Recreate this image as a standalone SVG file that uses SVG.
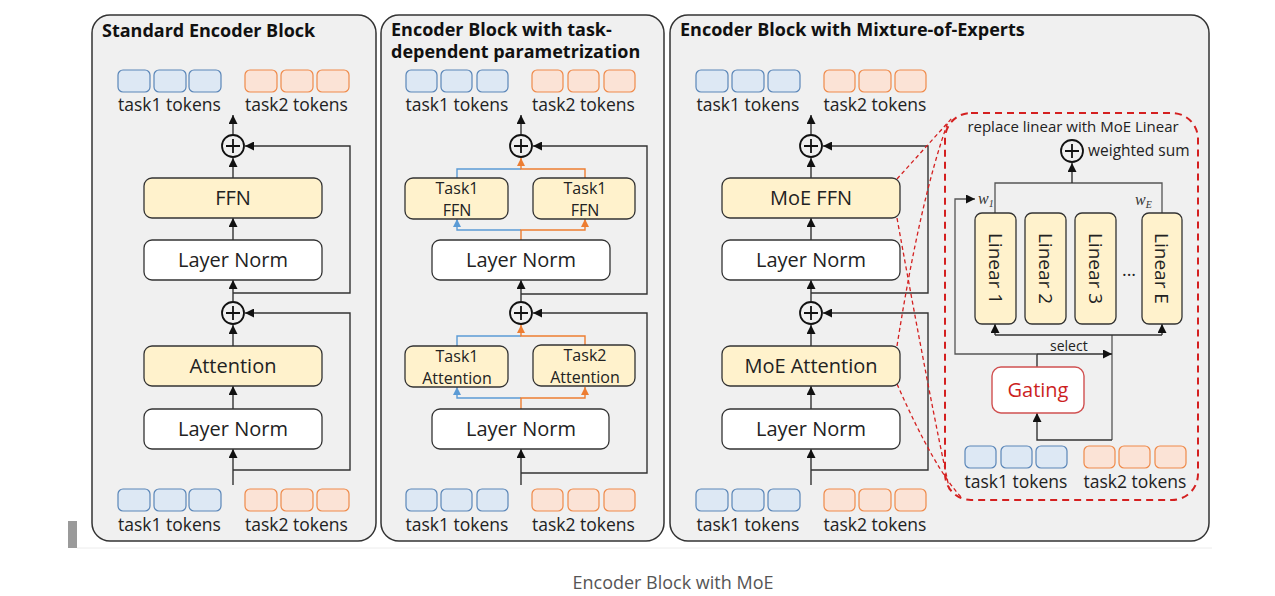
<svg xmlns="http://www.w3.org/2000/svg" width="1275" height="596" viewBox="0 0 1275 596">
<defs>
<style>
.panel{fill:#f0f0f0;stroke:#333;stroke-width:1.5}
.title{font-family:"Open Sans","Noto Sans",sans-serif;font-weight:bold;font-size:18px;fill:#111}
.box{fill:#fff;stroke:#333;stroke-width:1.3}
.ybox{fill:#fff2cc;stroke:#333;stroke-width:1.3}
.lbl{font-family:"Open Sans","Noto Sans",sans-serif;font-size:20px;fill:#222;text-anchor:middle}
.lbl2{font-family:"Open Sans","Noto Sans",sans-serif;font-size:16px;fill:#222;text-anchor:middle}
.tok{font-family:"Open Sans","Noto Sans",sans-serif;font-size:17.5px;fill:#222;text-anchor:middle}
.small{font-family:"Open Sans","Noto Sans",sans-serif;font-size:15px;fill:#222}
.bt{fill:#dde8f4;stroke:#5a86b8;stroke-width:1.2}
.ot{fill:#fbe3d6;stroke:#ef8a4a;stroke-width:1.2}
.ln{fill:none;stroke:#333;stroke-width:1.4}
.lg{fill:none;stroke:#555;stroke-width:1.3}
.lb{fill:none;stroke:#5b9bd5;stroke-width:1.4}
.lo{fill:none;stroke:#ed7d31;stroke-width:1.4}
.red{fill:none;stroke:#d42020;stroke-width:1.3;stroke-dasharray:4 3}
.plus{fill:#f0f0f0;stroke:#111;stroke-width:1.8}
</style>
<marker id="ah" markerUnits="userSpaceOnUse" markerWidth="9" markerHeight="9" viewBox="0 0 10 10" refX="10" refY="5" orient="auto"><path d="M0,0 L10,5 L0,10 z" fill="#111"/></marker>
<marker id="ahb" markerUnits="userSpaceOnUse" markerWidth="8" markerHeight="8" viewBox="0 0 10 10" refX="10" refY="5" orient="auto"><path d="M0,0 L10,5 L0,10 z" fill="#5b9bd5"/></marker>
<marker id="aho" markerUnits="userSpaceOnUse" markerWidth="8" markerHeight="8" viewBox="0 0 10 10" refX="10" refY="5" orient="auto"><path d="M0,0 L10,5 L0,10 z" fill="#ed7d31"/></marker>
<g id="plusSym"><circle cx="0" cy="0" r="11" class="plus"/><path d="M-7,0 H7 M0,-7 V7" stroke="#111" stroke-width="1.8"/></g>
</defs>
<rect width="1275" height="596" fill="#fff"/>
<rect x="68" y="521" width="9" height="27" fill="#9a9a9a"/>
<line x1="77" y1="548" x2="1212" y2="548" stroke="#ececec" stroke-width="1"/>

<!-- Panels -->
<g id="panel1">
<rect class="panel" x="92" y="15" width="284" height="526" rx="18"/>
<text class="title" x="102" y="37">Standard Encoder Block</text>
</g>
<g id="panel2">
<rect class="panel" x="381" y="15" width="283" height="526" rx="18"/>
<text class="title" x="391" y="36">Encoder Block with task-</text>
<text class="title" x="391" y="58">dependent parametrization</text>
</g>
<g id="panel3">
<rect class="panel" x="670" y="15" width="539" height="526" rx="18"/>
<text class="title" x="680" y="36">Encoder Block with Mixture-of-Experts</text>
</g>

<!-- Token rows -->
<g id="tokens-p1-top">
<rect class="bt" x="118" y="70" width="32" height="22" rx="5"/><rect class="bt" x="154" y="70" width="32" height="22" rx="5"/><rect class="bt" x="189" y="70" width="32" height="22" rx="5"/>
<rect class="ot" x="245" y="70" width="32" height="22" rx="5"/><rect class="ot" x="281" y="70" width="32" height="22" rx="5"/><rect class="ot" x="317" y="70" width="32" height="22" rx="5"/>
<text class="tok" x="169.5" y="111">task1 tokens</text><text class="tok" x="296.5" y="111">task2 tokens</text>
</g>
<g id="tokens-p1-bot">
<rect class="bt" x="118" y="489" width="32" height="22" rx="5"/><rect class="bt" x="154" y="489" width="32" height="22" rx="5"/><rect class="bt" x="189" y="489" width="32" height="22" rx="5"/>
<rect class="ot" x="245" y="489" width="32" height="22" rx="5"/><rect class="ot" x="281" y="489" width="32" height="22" rx="5"/><rect class="ot" x="317" y="489" width="32" height="22" rx="5"/>
<text class="tok" x="169.5" y="531">task1 tokens</text><text class="tok" x="296.5" y="531">task2 tokens</text>
</g>
<g id="tokens-p2-top">
<rect class="bt" x="406" y="70" width="31" height="22" rx="5"/><rect class="bt" x="441" y="70" width="31" height="22" rx="5"/><rect class="bt" x="477" y="70" width="31" height="22" rx="5"/>
<rect class="ot" x="532" y="70" width="31" height="22" rx="5"/><rect class="ot" x="568" y="70" width="31" height="22" rx="5"/><rect class="ot" x="604" y="70" width="31" height="22" rx="5"/>
<text class="tok" x="457" y="111">task1 tokens</text><text class="tok" x="583.5" y="111">task2 tokens</text>
</g>
<g id="tokens-p2-bot">
<rect class="bt" x="406" y="489" width="31" height="22" rx="5"/><rect class="bt" x="441" y="489" width="31" height="22" rx="5"/><rect class="bt" x="477" y="489" width="31" height="22" rx="5"/>
<rect class="ot" x="532" y="489" width="31" height="22" rx="5"/><rect class="ot" x="568" y="489" width="31" height="22" rx="5"/><rect class="ot" x="604" y="489" width="31" height="22" rx="5"/>
<text class="tok" x="457" y="531">task1 tokens</text><text class="tok" x="583.5" y="531">task2 tokens</text>
</g>
<g id="tokens-p3-top">
<rect class="bt" x="696" y="70" width="32" height="22" rx="5"/><rect class="bt" x="732" y="70" width="32" height="22" rx="5"/><rect class="bt" x="768" y="70" width="32" height="22" rx="5"/>
<rect class="ot" x="824" y="70" width="31" height="22" rx="5"/><rect class="ot" x="859" y="70" width="32" height="22" rx="5"/><rect class="ot" x="895" y="70" width="31" height="22" rx="5"/>
<text class="tok" x="748" y="111">task1 tokens</text><text class="tok" x="875" y="111">task2 tokens</text>
</g>
<g id="tokens-p3-bot">
<rect class="bt" x="696" y="489" width="32" height="22" rx="5"/><rect class="bt" x="732" y="489" width="32" height="22" rx="5"/><rect class="bt" x="768" y="489" width="32" height="22" rx="5"/>
<rect class="ot" x="824" y="489" width="31" height="22" rx="5"/><rect class="ot" x="859" y="489" width="32" height="22" rx="5"/><rect class="ot" x="895" y="489" width="31" height="22" rx="5"/>
<text class="tok" x="748" y="531">task1 tokens</text><text class="tok" x="875" y="531">task2 tokens</text>
</g>

<!-- Connectors -->
<g id="connectors">
<!-- panel 1 -->
<path class="ln" d="M233,485 V449" marker-end="url(#ah)"/>
<path class="ln" d="M233,470 H350 V313 H245" marker-end="url(#ah)"/>
<path class="ln" d="M233,409 V386" marker-end="url(#ah)"/>
<path class="ln" d="M233,346 V325" marker-end="url(#ah)"/>
<path class="ln" d="M233,301 V280" marker-end="url(#ah)"/>
<path class="ln" d="M233,293 H350 V146 H245" marker-end="url(#ah)"/>
<path class="ln" d="M233,240 V218" marker-end="url(#ah)"/>
<path class="ln" d="M233,178 V158" marker-end="url(#ah)"/>
<path class="ln" d="M233,134 V115" marker-end="url(#ah)"/>
<!-- panel 2 -->
<path class="ln" d="M521,485 V449" marker-end="url(#ah)"/>
<path class="ln" d="M521,473 H647 V313 H533" marker-end="url(#ah)"/>
<path class="lb" d="M521,398 H457 V387" marker-end="url(#ahb)"/>
<path class="lo" d="M521,409 V398 H585 V387" marker-end="url(#aho)"/>
<path class="lb" d="M457,346 V336 H521"/>
<path class="lo" d="M585,345 V336 H521 V325" marker-end="url(#aho)"/>
<path class="ln" d="M521,301 V280" marker-end="url(#ah)"/>
<path class="ln" d="M521,294 H647 V146 H533" marker-end="url(#ah)"/>
<path class="lb" d="M521,230 H457 V219" marker-end="url(#ahb)"/>
<path class="lo" d="M521,240 V230 H585 V219" marker-end="url(#aho)"/>
<path class="lb" d="M457,178 V169 H521"/>
<path class="lo" d="M585,178 V169 H521 V158" marker-end="url(#aho)"/>
<path class="ln" d="M521,134 V115" marker-end="url(#ah)"/>
<!-- panel 3 -->
<path class="ln" d="M811,485 V449" marker-end="url(#ah)"/>
<path class="ln" d="M811,470 H928 V313 H823" marker-end="url(#ah)"/>
<path class="ln" d="M811,409 V386" marker-end="url(#ah)"/>
<path class="ln" d="M811,346 V325" marker-end="url(#ah)"/>
<path class="ln" d="M811,301 V280" marker-end="url(#ah)"/>
<path class="ln" d="M811,293 H928 V146 H823" marker-end="url(#ah)"/>
<path class="ln" d="M811,240 V218" marker-end="url(#ah)"/>
<path class="ln" d="M811,178 V158" marker-end="url(#ah)"/>
<path class="ln" d="M811,134 V115" marker-end="url(#ah)"/>
<!-- red zoom lines -->
<path class="red" d="M897,179 L952,118"/>
<path class="red" d="M897,218 Q930,400 950,492"/>
<path class="red" d="M897,346 Q920,200 948,122"/>
<path class="red" d="M897,384 Q935,470 962,498"/>
<!-- MoE internals -->
<path class="lg" d="M995,213 V183 H1162 V213"/>
<path class="ln" d="M1072,183 V163" marker-end="url(#ah)"/>
<path class="lg" d="M1112,440 V335"/>
<path class="ln" d="M995,335 H1162"/>
<path class="ln" d="M995,335 V324" marker-end="url(#ah)"/>
<path class="ln" d="M1162,335 V324" marker-end="url(#ah)"/>
<path class="ln" d="M1112,440 H1037 V413" marker-end="url(#ah)"/>
<path class="ln" d="M1037,367 V354"/>
<path class="lg" d="M1037,354 H955 V199 H975" marker-end="url(#ah)"/>
<path class="ln" d="M1037,354 H1112" marker-end="url(#ah)"/>
</g>

<!-- Panel 1 nodes -->
<g id="p1-plus-top"><use href="#plusSym" x="233" y="146"/></g>
<g id="p1-ffn"><rect class="ybox" x="144" y="178" width="178" height="40" rx="8"/><text class="lbl" x="233" y="205">FFN</text></g>
<g id="p1-ln1"><rect class="box" x="144" y="240" width="178" height="40" rx="8"/><text class="lbl" x="233" y="267">Layer Norm</text></g>
<g id="p1-plus-bot"><use href="#plusSym" x="233" y="313"/></g>
<g id="p1-attn"><rect class="ybox" x="144" y="346" width="178" height="40" rx="8"/><text class="lbl" x="233" y="373">Attention</text></g>
<g id="p1-ln2"><rect class="box" x="144" y="409" width="178" height="40" rx="8"/><text class="lbl" x="233" y="436">Layer Norm</text></g>

<!-- Panel 2 nodes -->
<g id="p2-plus-top"><use href="#plusSym" x="521" y="146"/></g>
<g id="p2-ffn1"><rect class="ybox" x="405" y="178" width="103" height="41" rx="8"/><text class="lbl2" x="457" y="194">Task1</text><text class="lbl2" x="457" y="216">FFN</text></g>
<g id="p2-ffn2"><rect class="ybox" x="533" y="178" width="102" height="41" rx="8"/><text class="lbl2" x="585" y="194">Task1</text><text class="lbl2" x="585" y="216">FFN</text></g>
<g id="p2-ln1"><rect class="box" x="432" y="240" width="178" height="40" rx="8"/><text class="lbl" x="521" y="267">Layer Norm</text></g>
<g id="p2-plus-bot"><use href="#plusSym" x="521" y="313"/></g>
<g id="p2-attn1"><rect class="ybox" x="405" y="346" width="103" height="41" rx="8"/><text class="lbl2" x="457" y="362">Task1</text><text class="lbl2" x="457" y="384">Attention</text></g>
<g id="p2-attn2"><rect class="ybox" x="533" y="345" width="102" height="41" rx="8"/><text class="lbl2" x="585" y="361">Task2</text><text class="lbl2" x="585" y="383">Attention</text></g>
<g id="p2-ln2"><rect class="box" x="432" y="409" width="177" height="40" rx="8"/><text class="lbl" x="521" y="436">Layer Norm</text></g>

<!-- Panel 3 nodes -->
<g id="p3-plus-top"><use href="#plusSym" x="811" y="146"/></g>
<g id="p3-ffn"><rect class="ybox" x="722" y="178" width="178" height="40" rx="8"/><text class="lbl" x="811" y="205">MoE FFN</text></g>
<g id="p3-ln1"><rect class="box" x="722" y="240" width="178" height="40" rx="8"/><text class="lbl" x="811" y="267">Layer Norm</text></g>
<g id="p3-plus-bot"><use href="#plusSym" x="811" y="313"/></g>
<g id="p3-attn"><rect class="ybox" x="722" y="346" width="178" height="40" rx="8"/><text class="lbl" x="811" y="373">MoE Attention</text></g>
<g id="p3-ln2"><rect class="box" x="722" y="409" width="178" height="40" rx="8"/><text class="lbl" x="811" y="436">Layer Norm</text></g>

<!-- MoE Linear detail -->
<g id="moe-detail">
<rect x="945" y="113" width="253" height="387" rx="26" fill="none" stroke="#d42020" stroke-width="2" stroke-dasharray="7 5"/>
<text class="small" x="1073" y="132" text-anchor="middle">replace linear with MoE Linear</text>
</g>
<g id="moe-sum"><use href="#plusSym" x="1072" y="151"/><text class="small" x="1088" y="156" font-size="15.5" style="font-size:15.5px">weighted sum</text></g>
<g id="moe-weights">
<text x="978" y="204" font-family="Liberation Serif,serif" font-style="italic" font-size="16" fill="#333">w<tspan font-size="10" dy="3">1</tspan></text>
<text x="1135" y="205" font-family="Liberation Serif,serif" font-style="italic" font-size="16" fill="#333">w<tspan font-size="10" dy="3">E</tspan></text>
</g>
<g id="linear1"><rect class="ybox" x="975" y="213" width="41" height="111" rx="7"/><text class="lbl" transform="translate(995.5,268.5) rotate(90)" y="7" style="font-size:19px">Linear 1</text></g>
<g id="linear2"><rect class="ybox" x="1025" y="213" width="41" height="111" rx="7"/><text class="lbl" transform="translate(1045.5,268.5) rotate(90)" y="7" style="font-size:19px">Linear 2</text></g>
<g id="linear3"><rect class="ybox" x="1075" y="213" width="41" height="111" rx="7"/><text class="lbl" transform="translate(1095.5,268.5) rotate(90)" y="7" style="font-size:19px">Linear 3</text></g>
<g id="dots"><text class="lbl" x="1129" y="276" style="font-size:18px">...</text></g>
<g id="linearE"><rect class="ybox" x="1142" y="213" width="40" height="111" rx="7"/><text class="lbl" transform="translate(1162,268.5) rotate(90)" y="7" style="font-size:19px">Linear E</text></g>
<g id="select-label"><text class="small" x="1050" y="351" style="font-size:14px">select</text></g>
<g id="gating"><rect x="992" y="367" width="92" height="46" rx="9" fill="#fff" stroke="#d05050" stroke-width="1.4"/><text class="lbl" x="1038" y="397" style="fill:#cc1f1f">Gating</text></g>
<g id="tokens-moe">
<rect class="bt" x="965" y="446" width="31" height="22" rx="5"/><rect class="bt" x="1001" y="446" width="31" height="22" rx="5"/><rect class="bt" x="1036" y="446" width="31" height="22" rx="5"/>
<rect class="ot" x="1084" y="446" width="31" height="22" rx="5"/><rect class="ot" x="1119" y="446" width="31" height="22" rx="5"/><rect class="ot" x="1155" y="446" width="31" height="22" rx="5"/>
<text class="tok" x="1016" y="488">task1 tokens</text><text class="tok" x="1135" y="488">task2 tokens</text>
</g>

<text x="673" y="589" text-anchor="middle" font-family="Open Sans,Noto Sans,sans-serif" font-size="18" fill="#555">Encoder Block with MoE</text>
</svg>
